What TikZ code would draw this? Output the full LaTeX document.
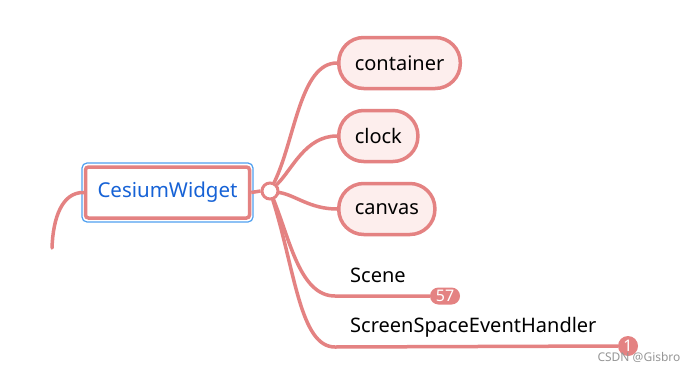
\documentclass[tikz,border=0pt]{standalone}
\usepackage{fontspec}
\setmainfont{Noto Sans}
\definecolor{lnred}{RGB}{228,130,130}
\definecolor{pillfill}{RGB}{253,238,237}
\definecolor{txtblue}{RGB}{22,98,214}
\definecolor{selblue}{RGB}{80,160,240}
\definecolor{wmgray}{RGB}{150,150,150}
\tikzset{
  branch/.style={draw=lnred,line width=3.5pt,line cap=round},
  pill/.style={draw=lnred,fill=pillfill,line width=3.5pt,rounded corners=25pt,minimum height=51pt,inner xsep=16pt,font=\fontsize{20}{24}\selectfont,text=black,anchor=west},
  plain/.style={font=\fontsize{20}{24}\selectfont,text=black,inner sep=0pt,anchor=west},
  badge/.style={fill=lnred,text=white,rounded corners=8.5pt,minimum height=17pt,minimum width=30pt,inner xsep=3pt,inner ysep=0pt,font=\fontsize{16}{18}\selectfont},
}
\begin{document}
\begin{tikzpicture}[x=1pt,y=-1pt]
\useasboundingbox[fill=white] (0,0) rectangle (693,372);
% root selection box
\draw[selblue,line width=1.2pt,rounded corners=5pt] (82,163) rectangle (253,222);
\node[draw=lnred,line width=3.5pt,rounded corners=3pt,minimum width=164pt,minimum height=51pt,font=\fontsize{20.5}{24}\selectfont,text=txtblue,fill=white] (root) at (167.5,192.5) {CesiumWidget};
\coordinate (tail) at (52,248);
\draw[branch] (root.west) .. controls (62,192) and (53,218) .. (tail);
% junction
\node[circle,draw=lnred,fill=white,line width=3pt,minimum size=16pt,inner sep=0pt] (j) at (270,191) {};
\draw[branch,line cap=butt] (root.east) -- (j.west);
% children
\node[pill] (cont) at (337,63) {container};
\node[pill] (clock) at (337,136) {clock};
\node[pill] (canv) at (337,209) {canvas};
\draw[branch] (j) .. controls (295,140) and (300,63) .. (cont.west);
\draw[branch] (j) .. controls (292,170) and (305,136) .. (clock.west);
\draw[branch] (j) .. controls (295,195) and (310,209) .. (canv.west);
\node[plain] (scene) at (350,275) {Scene};
\node[plain] (sseh) at (350,327) {ScreenSpaceEventHandler};
\node[badge] (b57) at (445,296) {57};
\node[badge,circle,inner sep=0pt,minimum size=20pt,minimum width=20pt] (b1) at (628,346) {1};
\draw[branch] (j) .. controls (290,240) and (300,296) .. (335,296) -- (b57.west);
\draw[branch] (j) .. controls (295,270) and (300,347) .. (335,347) -- (b1.west);
\node[text=wmgray,font=\fontsize{12}{14}\selectfont,inner sep=0pt] (wm) at (639,357) {CSDN @Gisbro};
\end{tikzpicture}
\end{document}
